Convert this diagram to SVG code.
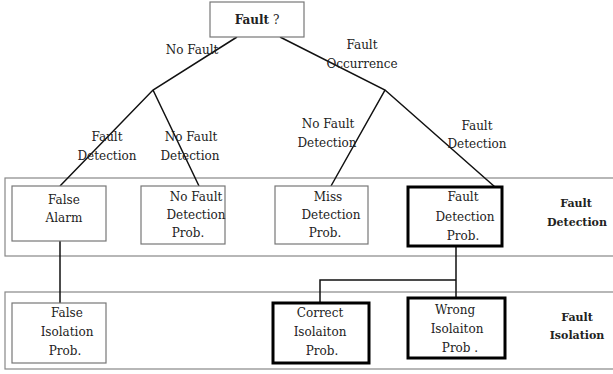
<svg xmlns="http://www.w3.org/2000/svg" width="613" height="374" viewBox="0 0 613 374">
<style>
text{font-family:'DejaVu Serif','Liberation Serif',serif;font-size:12px;fill:#222;text-anchor:middle}
.b{font-weight:bold;font-size:11px}
.band{fill:none;stroke:#888;stroke-width:1.2}
.box{fill:#fff;stroke:#777;stroke-width:1.2}
.tbox{fill:#fff;stroke:#000;stroke-width:3}
.ln{stroke:#111;stroke-width:1.5;fill:none}
</style>
<rect x="0" y="0" width="613" height="374" fill="#fff"/>
<g id="band-detection"><rect class="band" x="5" y="178" width="620" height="78"/>
<text class="b" x="576" y="207">Fault</text><text class="b" x="577" y="226">Detection</text></g>
<g id="band-isolation"><rect class="band" x="5" y="292" width="620" height="77"/>
<text class="b" x="577" y="321">Fault</text><text class="b" x="577" y="339">Isolation</text></g>
<g id="connectors">
<path class="ln" d="M237,37 L153,90 L60,186 M153,90 L199,186"/>
<path class="ln" d="M280,37 L385,90 L331,186 M385,90 L495,187"/>
<path class="ln" d="M60,241 V303"/>
<path class="ln" d="M456,246 V298 M456,280 H320 V303"/>
<text x="192" y="54">No Fault</text>
<text x="362" y="49">Fault</text><text x="362" y="68">Occurrence</text>
<text x="107" y="141">Fault</text><text x="107" y="160">Detection</text>
<text x="191" y="141">No Fault</text><text x="190" y="160">Detection</text>
<text x="328" y="128">No Fault</text><text x="327" y="147">Detection</text>
<text x="477" y="130">Fault</text><text x="477" y="148">Detection</text>
</g>
<g id="root"><rect class="box" x="210" y="2" width="94" height="35"/>
<text x="257" y="24"><tspan font-weight="bold">Fault</tspan> ?</text></g>
<g id="false-alarm"><rect class="box" x="12" y="186" width="94" height="55"/>
<text x="64" y="204">False</text><text x="64" y="222">Alarm</text></g>
<g id="no-fault-detection"><rect class="box" x="141" y="186" width="84" height="58"/>
<text x="196" y="201">No Fault</text><text x="196" y="219">Detection</text><text x="188" y="237">Prob.</text></g>
<g id="miss-detection"><rect class="box" x="275" y="186" width="93" height="58"/>
<text x="328" y="201">Miss</text><text x="331" y="219">Detection</text><text x="325" y="237">Prob.</text></g>
<g id="fault-detection"><rect class="tbox" x="408" y="187" width="94" height="59"/>
<text x="463" y="201">Fault</text><text x="465" y="221">Detection</text><text x="463" y="240">Prob.</text></g>
<g id="false-isolation"><rect class="box" x="12" y="303" width="94" height="60"/>
<text x="67" y="317">False</text><text x="67" y="336">Isolation</text><text x="65" y="355">Prob.</text></g>
<g id="correct-isolation"><rect class="tbox" x="273" y="303" width="96" height="60"/>
<text x="320" y="317">Correct</text><text x="320" y="336">Isolaiton</text><text x="322" y="355">Prob.</text></g>
<g id="wrong-isolation"><rect class="tbox" x="408" y="298" width="97" height="60"/>
<text x="455" y="314">Wrong</text><text x="457" y="333">Isolaiton</text><text x="460" y="352">Prob  .</text></g>
</svg>
